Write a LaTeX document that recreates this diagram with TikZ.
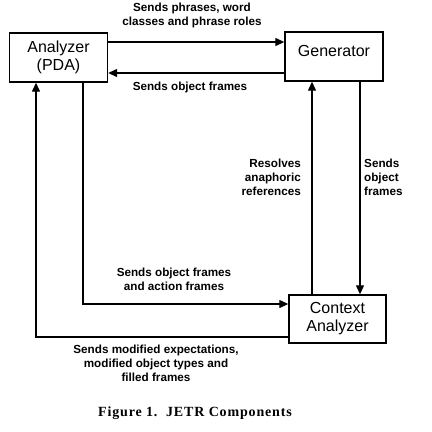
\documentclass[tikz,border=0pt]{standalone}
\usepackage{fontspec}
\setmainfont{Liberation Sans}
\newfontfamily\capfont[LetterSpace=6]{Liberation Serif}
\usetikzlibrary{arrows.meta, positioning, calc}
\tikzset{
  >={Triangle[length=9pt,width=8pt]},
  box/.style={
    draw, line width=1.4pt, minimum width=98pt, minimum height=49pt,
    align=center, inner sep=0pt, font=\fontsize{16}{18}\selectfont
  },
  arr/.style={->, line width=1.3pt},
  lab/.style={font=\bfseries\fontsize{11.7}{14}\selectfont, inner sep=0pt, align=#1},
  lab/.default=center
}

\begin{document}
\begin{tikzpicture}[x=1pt,y=-1pt]
  \useasboundingbox (0,0) rectangle (432,432);
  \node[box] (an) at (58.5,57.5) {Analyzer\\(PDA)};
  \node[box] (gen) at (334,56.5) {Generator\\[-6pt]};
  \node[box,minimum width=97pt,minimum height=48pt] (ctx) at (337.5,319) {Context\\Analyzer};
  % analyzer <-> generator
  \draw[arr] ([yshift=15.5pt]an.east) -- ([yshift=15.5pt]an.east -| gen.west);
  \draw[arr] ([yshift=-15.5pt]an.east -| gen.west) -- ([yshift=-15.5pt]an.east);
  % generator <-> context analyzer
  \draw[arr] ([xshift=-25.5pt]ctx.north) -- ([xshift=-25.5pt]ctx.north |- gen.south);
  \draw[arr] ([xshift=26pt]gen.south) -- ([xshift=26pt]gen.south |- ctx.north);
  % analyzer <-> context analyzer
  \draw[arr] ([xshift=24.5pt]an.south) |- ([yshift=15pt]ctx.west);
  \draw[arr] ([yshift=-18pt]ctx.west) -| ([xshift=-22.5pt]an.south);
  \node[lab] (l1) at (192,15) {Sends phrases, word\\classes and phrase roles};
  \node[lab] (l2) at (190,87) {Sends object frames};
  \node[lab=right,anchor=east] (l3) at (301,177.5) {Resolves\\anaphoric\\references};
  \node[lab=left,anchor=west] (l4) at (364,177.5) {Sends\\object\\frames};
  \node[lab] (l5) at (174,279) {Sends object frames\\and action frames};
  \node[lab] (l6) at (156,363) {Sends modified expectations,\\modified object types and\\filled frames};
  \node[font=\capfont\bfseries\fontsize{14}{16}\selectfont] (cap) at (195,413) {Figure 1.\ \ JETR Components};
\end{tikzpicture}
\end{document}
